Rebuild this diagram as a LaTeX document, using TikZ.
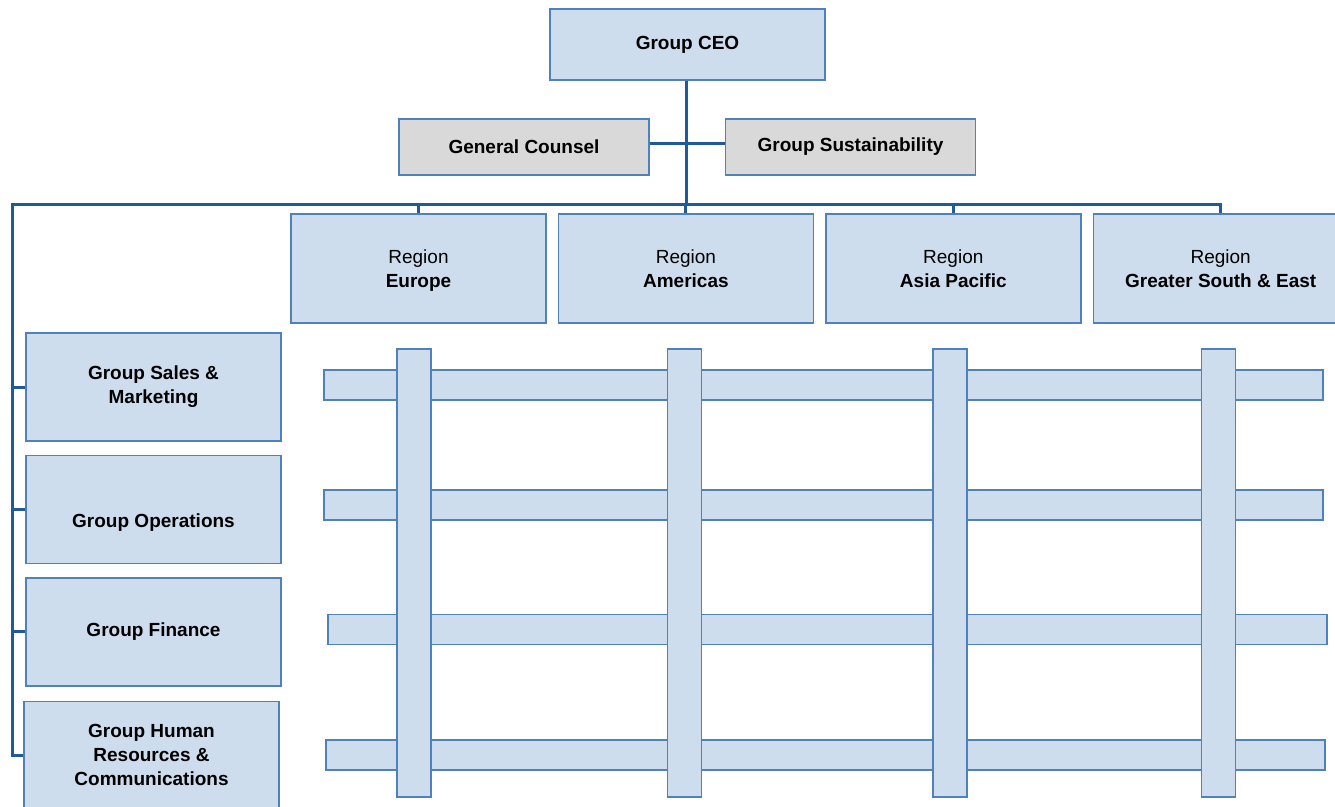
\documentclass[tikz,border=0pt]{standalone}
\usepackage{fontspec}
\setmainfont{Liberation Sans}
\usepackage{tikz}
\usetikzlibrary{positioning}
\definecolor{boxfill}{HTML}{CEDDEE}
\definecolor{boxline}{HTML}{4F81BD}
\definecolor{staffgray}{HTML}{D9D9D9}
\definecolor{linkblue}{HTML}{1F5A9B}

\begin{document}
\begin{tikzpicture}[
  x=1pt, y=-1pt,
  unit/.style={draw=boxline, line width=1.4pt, fill=boxfill, inner sep=2pt, align=center, text=black, font=\fontsize{19}{24}\selectfont},
  leadbox/.style={unit, font=\fontsize{19}{24}\selectfont\bfseries, minimum width=275pt, minimum height=71pt},
  staffbox/.style={unit, fill=staffgray, font=\fontsize{19}{24}\selectfont\bfseries, minimum width=250pt, minimum height=56pt},
  regionbox/.style={unit, text depth=0pt, minimum width=255pt, minimum height=109pt},
  groupbox/.style={unit, font=\fontsize{19}{24}\selectfont\bfseries, minimum width=255pt, minimum height=108pt},
  hbar/.style={unit, inner sep=0pt, minimum width=999pt, minimum height=30pt},
  vbar/.style={unit, inner sep=0pt, minimum width=34pt, minimum height=448pt},
  link/.style={draw=linkblue, line width=3pt}
]
\useasboundingbox (0,0) rectangle (1335,806);

% Top of the chart
\node[leadbox] (ceo) at (687.5,44.5) {Group CEO};
\node[staffbox] (counsel) at (524,147) {General Counsel};
\node[staffbox] (sustain) at (850.5,147) {Group Sustainability};

% Regions
\node[regionbox] (europe) at (418.5,268.5) {Region\\\textbf{Europe}};
\node[regionbox, right=11pt of europe] (americas) {Region\\\textbf{Americas}};
\node[regionbox, right=11pt of americas] (asia) {Region\\\textbf{Asia Pacific}};
\node[regionbox, right=11pt of asia] (gse) {Region\\\textbf{Greater South \& East}};

% Group functions
\node[groupbox] (sales) at (153.5,387) {Group Sales \&\\Marketing};
\node[groupbox, below=13pt of sales] (ops) {\strut\\Group Operations};
\node[groupbox, below=13pt of ops] (finance) {Group Finance};
\node[groupbox, below=14pt of finance, xshift=-2pt] (hr) {Group Human\\Resources \&\\Communications};

% Matrix grid
\foreach \x/\y [count=\i] in {823.5/385, 823.5/505, 827.5/629.5, 825.5/755}
  \node[hbar] (row\i) at (\x,\y) {};
\foreach \x [count=\i] in {414, 684.5, 950, 1218.5}
  \node[vbar] (col\i) at (\x,573) {};

% Reporting lines
\coordinate (hub) at (686,204);
\coordinate (corner) at (12,204);
\draw[link] (ceo.south -| hub) -- (hub);
\draw[link] ([yshift=4pt]counsel.east) -- ([yshift=4pt]sustain.west);
\draw[link] (hr.west) -| (corner) -- (gse.north |- corner) -- (gse.north);
\foreach \r in {europe, americas, asia}
  \draw[link] (\r.north |- corner) -- (\r.north);
\foreach \g in {sales, ops, finance}
  \draw[link] (\g.west -| corner) -- (\g.west);
\end{tikzpicture}
\end{document}
